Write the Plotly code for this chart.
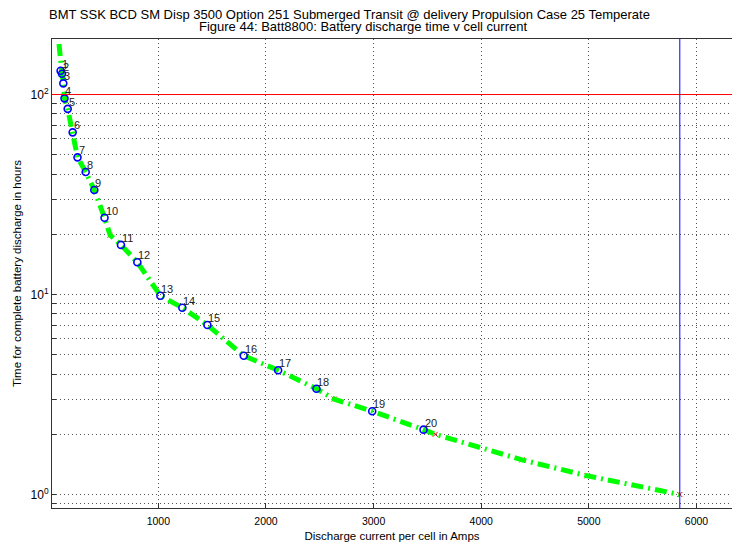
import math
import plotly.graph_objects as go

# ---- data ----
point_ids = [str(i) for i in range(1, 21)]
point_current = [92, 105, 117, 128, 158, 204, 249, 325, 405, 500, 653, 805,
                 1019, 1223, 1456, 1794, 2113, 2469, 2987, 3464]
point_hours = [131.5, 127, 113.7, 95.7, 84.8, 64.7, 48.5, 41.0, 33.3, 24.2, 17.7, 14.5,
               9.86, 8.59, 7.04, 4.94, 4.18, 3.38, 2.61, 2.11]

curve_current = [77, 92, 105, 117, 128, 158, 204, 249, 325, 405, 500, 552, 653, 805,
                 1019, 1223, 1456, 1794, 2113, 2469, 2634, 2987, 3464, 3573, 4379, 4984, 5845]
curve_hours = [179, 131.5, 127, 113.7, 95.7, 84.8, 64.7, 48.5, 41.0, 33.3, 24.2, 19.8, 17.7, 14.5,
               9.86, 8.59, 7.04, 4.94, 4.18, 3.38, 3.0, 2.61, 2.11, 2.0, 1.49, 1.24, 1.0]

cross_current = [552, 2634, 3573, 4379, 4984, 5845]
cross_hours = [19.8, 3.0, 2.0, 1.49, 1.24, 1.0]

limit_hours = 100
max_current = 5845

x_ticks = [1000, 2000, 3000, 4000, 5000, 6000]
y_ticks = [0.9, 1, 2, 3, 4, 5, 6, 7, 8, 9, 10, 20, 30, 40, 50, 60, 70, 80, 90, 100]
decade_labels = {1: "10<sup>0</sup>", 10: "10<sup>1</sup>", 100: "10<sup>2</sup>"}
y_ticktext = [decade_labels.get(v, "") for v in y_ticks]

title_line1 = "BMT SSK BCD SM Disp 3500 Option 251 Submerged Transit @ delivery Propulsion Case 25 Temperate"
title_line2 = "Figure 44: Batt8800: Battery discharge time v cell current"

FONT = "Liberation Sans, Arial, sans-serif"
L, R, T, B = 52, 0, 39, 40
PW, PH = 732 - L - R, 548 - T - B

fig = go.Figure()
fig.add_trace(go.Scatter(x=cross_current, y=cross_hours, mode="markers",
                         marker=dict(symbol="x-thin", size=5, color="red",
                                     line=dict(color="red", width=1)),
                         showlegend=False, hoverinfo="skip"))
fig.add_trace(go.Scatter(x=curve_current, y=curve_hours, mode="lines",
                         line=dict(color="rgb(0,255,0)", width=5, dash="12px,5px,2px,5px"),
                         showlegend=False))
fig.add_trace(go.Scatter(x=point_current, y=point_hours, mode="markers",
                         marker=dict(symbol="circle-open", size=7, color="blue",
                                     line=dict(color="blue", width=1.6)),
                         showlegend=False))

# point labels (annotation y on a log axis is given in log10 units)
for pid, xv, yv in zip(point_ids, point_current, point_hours):
    fig.add_annotation(x=xv, y=math.log10(yv), text=pid, showarrow=False,
                       xanchor="left", yanchor="bottom", xshift=-1, yshift=-1,
                       font=dict(family=FONT, size=11, color="#222"))

fig.add_hline(y=limit_hours, line=dict(color="red", width=1))
fig.add_vline(x=max_current, line=dict(color="blue", width=1))

fig.add_annotation(text=title_line1, x=(349 - L) / PW, xref="paper", y=1 + (T - 14) / PH,
                   yref="paper", yanchor="middle", showarrow=False,
                   font=dict(family=FONT, size=13, color="black"))
fig.add_annotation(text=title_line2, x=(363 - L) / PW, xref="paper", y=1 + (T - 26) / PH,
                   yref="paper", yanchor="middle", showarrow=False,
                   font=dict(family=FONT, size=13, color="black"))

grid = dict(showgrid=True, gridcolor="#555", griddash="1px,3px", gridwidth=1,
            showline=True, linecolor="#333", linewidth=1, mirror=True, zeroline=False,
            ticks="inside", tickcolor="#333")

fig.update_layout(
    width=732, height=548,
    margin=dict(l=L, r=R, t=T, b=B),
    paper_bgcolor="white", plot_bgcolor="white",
    font=dict(family=FONT, size=11, color="black"),
    xaxis=dict(range=[12, 6330], tickvals=x_ticks, ticklen=5, ticklabelstandoff=3,
               tickfont=dict(size=10.5),
               title=dict(text="Discharge current per cell in Amps", font=dict(size=11.5), standoff=6),
               **grid),
    yaxis=dict(type="log", range=[-0.0675, 2.2776], tickvals=y_ticks, ticktext=y_ticktext,
               ticklen=4, tickfont=dict(size=12),
               title=dict(text="Time for complete battery discharge in hours", font=dict(size=11.5), standoff=6),
               **grid),
)

fig.write_html("out.html")
